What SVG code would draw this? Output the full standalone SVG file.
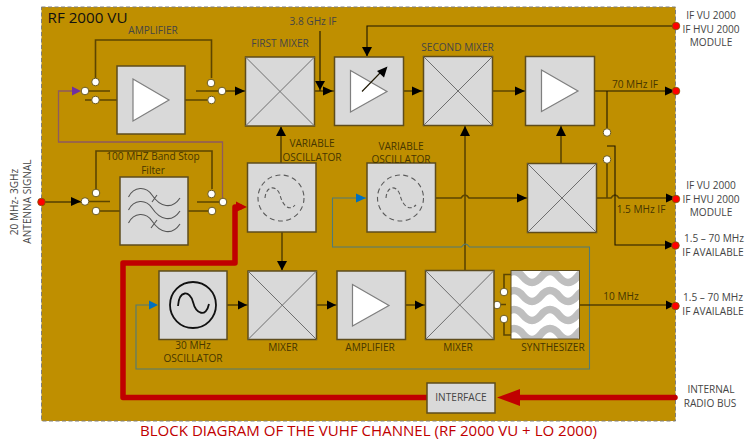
<svg xmlns="http://www.w3.org/2000/svg" width="745" height="443" viewBox="0 0 745 443">
<style>
text{font-family:"Open Sans","Noto Sans","Liberation Sans",sans-serif;font-size:10.1px;fill:#454545;text-anchor:middle}
.dk{fill:#463600}
.blk{fill:#d9d9d9;stroke:#5e4c1c;stroke-width:1.5}
.tri{fill:#fff;stroke:#7f7f7f;stroke-width:1.2}
.x{stroke:#6e6e6e;stroke-width:1;fill:none}
.sw{fill:#fff;stroke:#6b5a20;stroke-width:1}
.pin{fill:#f00;stroke:#7a5a00;stroke-width:.8}
.ln{fill:none;stroke:#1e1700;stroke-width:1.1}
.th{fill:none;stroke:#5c4500;stroke-width:1.6}
.blu{fill:none;stroke:#4f7a78;stroke-width:1.1}
.pur{fill:none;stroke:#8f5a5f;stroke-width:1.3}
.red{fill:none;stroke:#c00000;stroke-width:5.5;stroke-linejoin:round;stroke-linecap:round}
.ah{fill:#000}
.dash{fill:none;stroke:#5a5a5a;stroke-width:1.1;stroke-dasharray:5 3.5}
.wv{fill:none;stroke:#555;stroke-width:1.1}
.band{fill:none;stroke:#bfbfbf;stroke-width:7.5}
</style>
<defs>
<clipPath id="sc"><rect x="511" y="270" width="68" height="69"/></clipPath>
</defs>
<rect id="panel" x="41.500" y="7" width="634" height="414" fill="#bf8f00" stroke="#7f7f7f" stroke-width="1" stroke-dasharray="4 2.500"/>
<text x="87.500" y="22.500" style="font-size:15.200px;fill:#111">RF 2000 VU</text>

<g id="connectors">
<path class="th" d="M95.500 78V40H211.500V78M110 91H85M85 100H117M185 100H212M196 91H222"/>
<path class="th" d="M96 189V151H212V189M110 201.500H85M96 211H120M188 211H212M197 202H223"/>
<path class="pur" d="M222.500 202V142H58.500V91H78"/>
<polygon points="72,86.500 81,91 72,95.500" fill="#7030a0"/>
<path class="ln" d="M222 91H245M42 202H81"/>
<polygon class="ah" points="235,86.500 245,91 235,95.500"/>
<polygon class="ah" points="71,197 81,201.500 71,206"/>
<path class="ln" d="M320 31V91M314 91H334"/>
<polygon class="ah" points="315,81 325,81 320,90"/><polygon class="ah" points="323,86.500 333,91 323,95.500"/>
<path class="ln" d="M675 26H367V56"/><polygon class="ah" points="362,47 372,47 367,56.500"/>
<path class="th" d="M403 91H423"/><polygon class="ah" points="412,86.500 422,91 412,95.500"/>
<path class="th" d="M492 91H525"/><polygon class="ah" points="515,86.500 525,91 515,95.500"/>
<path class="ln" d="M594 91H674M607 91V128"/><polygon class="ah" points="665,86.500 675,91 665,95.500"/>
<path class="th" d="M281 163V127"/><polygon class="ah" points="276,136 286,136 281,126.500"/>
<path class="th" d="M282 232V270"/><polygon class="ah" points="277,261 287,261 282,270.500"/>
<path class="th" d="M435 198H461q4 -6 8 0H527"/><polygon class="ah" points="517,193.500 527,198 517,202.500"/>
<path class="th" d="M561 163V126"/><polygon class="ah" points="556,136 566,136 561,126"/>
<path class="th" d="M465 270V126"/><polygon class="ah" points="460,136 470,136 465,126"/>
<path class="th" d="M596 198H611q4 -6 8 0H674M607 163V198"/><polygon class="ah" points="666,193.500 676,198 666,202.500"/>
<path class="ln" d="M607 146H615V245H674"/><polygon class="ah" points="665,240.500 675,245 665,249.500"/>
<path class="blu" d="M366 198H332.500V247H461.500q4 -6 8 0H589.500V369H136V305H150"/>
<polygon points="356,193.500 366,198 356,202.500" fill="#0070c0"/>
<polygon points="149,300.500 158,305 149,309.500" fill="#0070c0"/>
<path class="ln" d="M227 305H248M316 305H337M405 305H425M579 305H675"/>
<polygon class="ah" points="238,300.500 247,305 238,309.500"/>
<polygon class="ah" points="327,300.500 336,305 327,309.500"/>
<polygon class="ah" points="415,300.500 424,305 415,309.500"/>
<polygon class="ah" points="666,300.500 675,305 666,309.500"/>
<path class="th" d="M511 274.500H504V288M504 323V335H511M497 304.500H506"/>
<path class="red" d="M427 397.500H123V263H235V207H240"/>
<polygon points="236,201.500 247,207 236,212" fill="#c00000"/>
<path class="red" d="M519 397.500H675"/>
<polygon points="520,389 497,397.500 520,406" fill="#c00000"/>
</g>

<g id="switches">
<circle class="sw" cx="95.500" cy="82" r="3.800"/><circle class="sw" cx="85" cy="91" r="3.800"/><circle class="sw" cx="95.500" cy="100" r="3.800"/>
<circle class="sw" cx="211" cy="83" r="3.800"/><circle class="sw" cx="222" cy="91" r="3.800"/><circle class="sw" cx="211.500" cy="100" r="3.800"/>
<circle class="sw" cx="96" cy="193" r="3.800"/><circle class="sw" cx="85" cy="201.500" r="3.800"/><circle class="sw" cx="96" cy="211" r="3.800"/>
<circle class="sw" cx="211.500" cy="194" r="3.800"/><circle class="sw" cx="223" cy="202" r="3.800"/><circle class="sw" cx="212" cy="211" r="3.800"/>
<circle class="sw" cx="607" cy="132.500" r="3.800"/><circle class="sw" cx="607" cy="159.500" r="3.800"/>
<circle class="sw" cx="504" cy="292" r="3.800"/><circle class="sw" cx="497" cy="305" r="3.800"/><circle class="sw" cx="504" cy="319" r="3.800"/>
</g>
<g id="ports">
<circle class="pin" cx="41.500" cy="202" r="3.800"/><circle class="pin" cx="676" cy="26" r="3.800"/><circle class="pin" cx="676" cy="91" r="3.800"/>
<circle class="pin" cx="676" cy="199" r="3.800"/><circle class="pin" cx="675.500" cy="245.500" r="3.800"/><circle class="pin" cx="675.500" cy="306" r="3.800"/>
</g>

<g id="amplifier-1"><rect class="blk" x="117" y="66" width="68" height="68"/><polygon class="tri" points="133,79 169,100 133,121"/><text x="153" y="34">AMPLIFIER</text></g>
<g id="first-mixer"><rect class="blk" x="245.500" y="57" width="69" height="69"/><path class="x" d="M245.500 57L314.500 126M314.500 57L245.500 126"/><text x="280" y="47">FIRST MIXER</text></g>
<g id="variable-amplifier"><rect class="blk" x="334.500" y="57" width="69" height="68.500"/><polygon class="tri" points="350.500,70.500 387,91.500 350.500,112"/><path class="ln" d="M362 91.500L380 73"/><polygon class="ah" points="387.500,66.500 384,77.500 377,71"/><text x="313" y="25">3.8 GHz IF</text></g>
<g id="second-mixer"><rect class="blk" x="423.500" y="56.500" width="69" height="69"/><path class="x" d="M423.500 56.500L492.500 125.500M492.500 56.500L423.500 125.500"/><text x="457.500" y="51">SECOND  MIXER</text></g>
<g id="amplifier-2"><rect class="blk" x="525.500" y="56.500" width="69" height="69"/><polygon class="tri" points="541.500,70 578,91 541.500,111.500"/><text x="635" y="88" class="dk">70 MHz IF</text></g>
<g id="band-stop-filter"><rect class="blk" x="120" y="177" width="68" height="68"/>
<path class="wv" d="M128.500 197C134 186 146 186 152 195C160 207 172 210 180 198M128.500 210C134 199 146 199 152 208C160 220 172 223 180 211M128.500 223C134 212 146 212 152 221C160 233 172 236 180 224M152 202L157 195M151 228L157 220"/>
<text x="153" y="160" class="dk">100 MHZ Band Stop</text><text x="153" y="174" class="dk">Filter</text></g>
<g id="variable-oscillator-1"><rect class="blk" x="247.500" y="163" width="68.500" height="69"/><circle class="dash" cx="281" cy="198" r="23"/><path class="dash" d="M265 198C266 185 277 185 280 195C283 207 290 211 295 205" style="stroke-dasharray:4 2.500"/><text x="312" y="147" class="dk">VARIABLE</text><text x="312" y="161" class="dk">OSCILLATOR</text></g>
<g id="variable-oscillator-2"><rect class="blk" x="367" y="163" width="68.500" height="69"/><circle class="dash" cx="400.500" cy="198" r="23"/><path class="dash" d="M386 198C387 185 397 185 400 195C403 207 410 211 416 205" style="stroke-dasharray:4 2.500"/><text x="401" y="150" class="dk">VARIABLE</text><text x="401" y="163" class="dk">OSCILLATOR</text></g>
<g id="if-mixer"><rect class="blk" x="527.500" y="163.500" width="69" height="69"/><path class="x" d="M527.500 163.500L596.500 232.500M596.500 163.500L527.500 232.500"/></g>
<g id="oscillator-30"><rect class="blk" x="159" y="271" width="68" height="68.500"/><circle cx="193" cy="305" r="23" fill="none" stroke="#111" stroke-width="1.800"/><path d="M178 306C179 290 190 290 193 302C196 314 206 318 209 304" fill="none" stroke="#111" stroke-width="1.800"/><text x="193" y="349" class="dk">30 MHz</text><text x="193" y="362" class="dk">OSCILLATOR</text></g>
<g id="mixer-1"><rect class="blk" x="248" y="271" width="68.500" height="68.500"/><path class="x" d="M248 271L316.500 339.500M316.500 271L248 339.500"/><text x="283" y="351" class="dk">MIXER</text></g>
<g id="amplifier-3"><rect class="blk" x="337" y="271" width="68.500" height="68.500"/><polygon class="tri" points="352.500,284.500 389,305.500 352.500,326"/><text x="370" y="351" class="dk">AMPLIFIER</text></g>
<g id="mixer-2"><rect class="blk" x="425.500" y="270.500" width="68.500" height="69"/><path class="x" d="M425.500 270.500L494 339.500M494 270.500L425.500 339.500"/><text x="458" y="351" class="dk">MIXER</text></g>
<g id="synthesizer"><rect x="511" y="270.500" width="68.500" height="68.500" fill="#fff"/>
<g clip-path="url(#sc)"><path class="band" d="M505 277q9 -11 18 0t18 0t18 0t18 0t18 0M505 296q9 -11 18 0t18 0t18 0t18 0t18 0M505 315q9 -11 18 0t18 0t18 0t18 0t18 0M505 334q9 -11 18 0t18 0t18 0t18 0t18 0"/></g>
<rect x="511" y="270.500" width="68.500" height="68.500" fill="none" stroke="#5e4c1c" stroke-width="1"/><text x="553" y="351" class="dk">SYNTHESIZER</text></g>
<g id="interface"><rect class="blk" x="427" y="383" width="68" height="30"/><text x="461" y="401">INTERFACE</text></g>

<g id="labels">
<text x="621" y="300" class="dk">10  MHz</text>
<text x="641" y="213" class="dk">1.5 MHz IF</text>
<text x="711" y="19">IF VU 2000</text><text x="711" y="33">IF HVU 2000</text><text x="711" y="46">MODULE</text>
<text x="711" y="189">IF VU 2000</text><text x="711" y="203">IF HVU 2000</text><text x="711" y="216">MODULE</text>
<text x="714" y="242">1.5 – 70 MHz</text><text x="713" y="256">IF AVAILABLE</text>
<text x="713" y="301">1.5 – 70 MHz</text><text x="713" y="315">IF AVAILABLE</text>
<text x="711" y="393">INTERNAL</text><text x="710" y="407">RADIO BUS</text>
<text transform="translate(18 202) rotate(-90)">20 MHz- 3GHz</text>
<text transform="translate(31 201.500) rotate(-90)">ANTENNA SIGNAL</text>
<text x="368.500" y="436" textLength="457" lengthAdjust="spacingAndGlyphs" style="font-size:14.600px;fill:#c00000">BLOCK DIAGRAM OF THE VUHF CHANNEL (RF 2000 VU + LO 2000)</text>
</g>
</svg>
